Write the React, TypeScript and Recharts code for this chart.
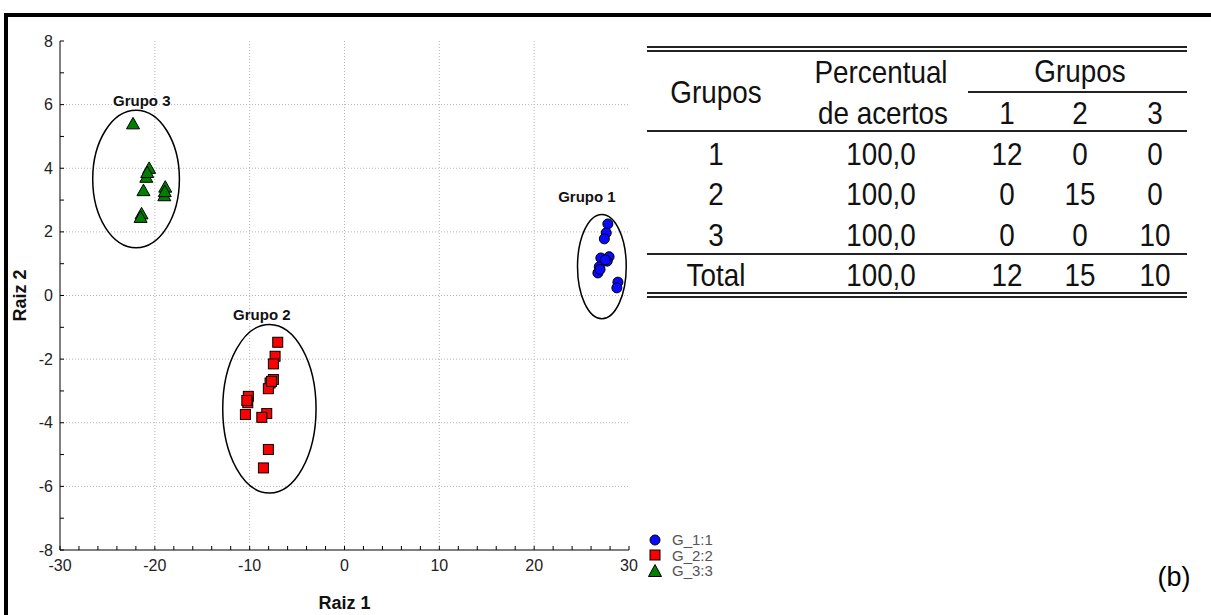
import { ScatterChart, Scatter, XAxis, YAxis, CartesianGrid, ReferenceArea, ReferenceDot } from 'recharts'

type Pt = { x: number; y: number }

// discriminant scores (Raiz 1, Raiz 2) per group
const grupo1: Pt[] = [
  { x: 27.77, y: 2.25 }, { x: 27.6, y: 1.97 }, { x: 27.4, y: 1.78 }, { x: 27.03, y: 1.18 },
  { x: 27.9, y: 1.22 }, { x: 27.7, y: 1.08 }, { x: 26.86, y: 0.9 }, { x: 26.72, y: 0.71 },
  { x: 28.83, y: 0.42 }, { x: 28.72, y: 0.24 }, { x: 27.5, y: 1.12 }, { x: 26.95, y: 0.82 },
]
const grupo2: Pt[] = [
  { x: -7.04, y: -1.47 }, { x: -7.32, y: -1.91 }, { x: -7.5, y: -2.15 }, { x: -7.5, y: -2.64 },
  { x: -7.85, y: -2.75 }, { x: -8.03, y: -2.93 }, { x: -10.14, y: -3.17 }, { x: -10.2, y: -3.37 },
  { x: -10.45, y: -3.74 }, { x: -8.2, y: -3.71 }, { x: -8.72, y: -3.83 }, { x: -8.03, y: -4.84 },
  { x: -8.55, y: -5.42 }, { x: -7.7, y: -2.7 }, { x: -10.3, y: -3.3 },
]
const grupo3: Pt[] = [
  { x: -22.3, y: 5.38 }, { x: -20.6, y: 3.98 }, { x: -20.9, y: 3.7 }, { x: -21.2, y: 3.28 },
  { x: -18.9, y: 3.39 }, { x: -19.0, y: 3.12 }, { x: -21.4, y: 2.55 }, { x: -21.5, y: 2.44 },
  { x: -20.8, y: 3.85 }, { x: -18.95, y: 3.25 },
]

// group ellipses: centre and semi-axes in score units
const ellipses = [
  { id: 'g1', cx: 27.14, cy: 0.91, rx: 2.57, ry: 1.64 },
  { id: 'g2', cx: -7.92, cy: -3.56, rx: 4.92, ry: 2.65 },
  { id: 'g3', cx: -21.98, cy: 3.66, rx: 4.57, ry: 2.16 },
]
const groupLabels = [
  { text: 'Grupo 1', x: 25.56, y: 3.12 },
  { text: 'Grupo 2', x: -8.72, y: -0.6 },
  { text: 'Grupo 3', x: -21.38, y: 6.11 },
]

const xLabels = [-30, -20, -10, 0, 10, 20, 30]
const yLabels = [-8, -6, -4, -2, 0, 2, 4, 6, 8]
const xGrid = [-20, -10, 0, 10, 20]
const yGrid = [-6, -4, -2, 0, 2, 4, 6]

const legendItems = ['G_1:1', 'G_2:2', 'G_3:3']

// classification table
const tableCols = ['1', '2', '3']
const tableRows = [
  { grupo: '1', pct: '100,0', counts: [12, 0, 0] },
  { grupo: '2', pct: '100,0', counts: [0, 15, 0] },
  { grupo: '3', pct: '100,0', counts: [0, 0, 10] },
]
const totalPct = '100,0'

const range = (a: number, b: number, step: number) => {
  const out: number[] = []
  for (let v = a; v <= b + 1e-9; v += step) out.push(Math.round(v * 100) / 100)
  return out
}
const xTicks = range(-30, 30, 2)
const yTicks = range(-8, 8, 1)

const BLUE = '#0a0aff'
const RED = '#ff0000'
const GREEN = '#007f00'

const Circle = (p: any) => <circle cx={p.cx} cy={p.cy} r={5} fill={BLUE} stroke="#000" strokeWidth={1} />
const Square = (p: any) => <rect x={p.cx - 5} y={p.cy - 5} width={10} height={10} fill={RED} stroke="#000" strokeWidth={1} />
const Triangle = (p: any) => (
  <polygon
    points={`${p.cx},${p.cy - 7} ${p.cx - 6.5},${p.cy + 4.5} ${p.cx + 6.5},${p.cy + 4.5}`}
    fill={GREEN}
    stroke="#000"
    strokeWidth={1}
  />
)

// ticks point inward on every side, labels only on major values
const BottomTick = ({ x, y, payload }: any) => (
  <g>
    <line x1={x} y1={y} x2={x} y2={y - 4} stroke="#000" />
    {xLabels.includes(payload.value) && (
      <text x={x} y={y + 21} textAnchor="middle" fontSize={16} fill="#222">{payload.value}</text>
    )}
  </g>
)
const LeftTick = ({ x, y, payload }: any) => (
  <g>
    <line x1={x} y1={y} x2={x + 4} y2={y} stroke="#000" />
    {yLabels.includes(payload.value) && (
      <text x={x - 7} y={y + 5.5} textAnchor="end" fontSize={16} fill="#222">{payload.value}</text>
    )}
  </g>
)
const TopTick = ({ x, y }: any) => <line x1={x} y1={y} x2={x} y2={y + 4} stroke="#000" />
const RightTick = ({ x, y }: any) => <line x1={x} y1={y} x2={x - 4} y2={y} stroke="#000" />

const EllipseShape = (p: any) => (
  <ellipse
    cx={p.x + p.width / 2}
    cy={p.y + p.height / 2}
    rx={p.width / 2}
    ry={p.height / 2}
    fill="none"
    stroke="#000"
    strokeWidth={1.5}
  />
)

const Cell = ({ x, y, children }: { x: number; y: number; children: React.ReactNode }) => (
  <div
    style={{
      position: 'absolute',
      left: x,
      top: y,
      transform: 'translate(-50%, -50%) scaleX(0.87)',
      fontSize: 32,
      lineHeight: 1,
      whiteSpace: 'nowrap',
      color: '#111',
    }}
  >
    {children}
  </div>
)

const HLine = ({ x1, x2, y, h = 2 }: { x1: number; x2: number; y: number; h?: number }) => (
  <div style={{ position: 'absolute', left: x1, top: y, width: x2 - x1, height: h, background: '#222' }} />
)

function ClassTable() {
  const colX = [716, 881, 1007, 1080, 1155]
  const rowY = [154, 194, 235]
  const totals = tableCols.map((_, i) => tableRows.reduce((s, r) => s + r.counts[i], 0))
  return (
    <>
      <HLine x1={647} x2={1187} y={46} />
      <HLine x1={647} x2={1187} y={49.5} />
      <Cell x={colX[0]} y={92}>Grupos</Cell>
      <Cell x={colX[1]} y={72}>Percentual</Cell>
      <Cell x={colX[1] + 2} y={113}>de acertos</Cell>
      <Cell x={colX[3]} y={71}>Grupos</Cell>
      <HLine x1={968} x2={1187} y={91} h={1.5} />
      {tableCols.map((c, i) => (
        <Cell key={c} x={colX[2 + i]} y={113}>{c}</Cell>
      ))}
      <HLine x1={647} x2={1187} y={130} />
      {tableRows.map((r, ri) => (
        <div key={r.grupo}>
          <Cell x={colX[0]} y={rowY[ri]}>{r.grupo}</Cell>
          <Cell x={colX[1]} y={rowY[ri]}>{r.pct}</Cell>
          {r.counts.map((n, i) => (
            <Cell key={i} x={colX[2 + i]} y={rowY[ri]}>{n}</Cell>
          ))}
        </div>
      ))}
      <HLine x1={647} x2={1187} y={253} />
      <Cell x={colX[0]} y={275}>Total</Cell>
      <Cell x={colX[1]} y={275}>{totalPct}</Cell>
      {totals.map((n, i) => (
        <Cell key={i} x={colX[2 + i]} y={275}>{n}</Cell>
      ))}
      <HLine x1={647} x2={1187} y={292} />
      <HLine x1={647} x2={1187} y={296} />
    </>
  )
}

function LegendBox() {
  const icons = [
    <circle cx={7} cy={7} r={5} fill={BLUE} stroke="#000" />,
    <rect x={2} y={2} width={10} height={10} fill={RED} stroke="#000" />,
    <polygon points="7,0.5 0.5,12.5 13.5,12.5" fill={GREEN} stroke="#000" />,
  ]
  return (
    <div style={{ position: 'absolute', left: 648, top: 532 }}>
      {legendItems.map((t, i) => (
        <div key={t} style={{ display: 'flex', alignItems: 'center', height: 15.5 }}>
          <svg width={14} height={14}>{icons[i]}</svg>
          <span style={{ marginLeft: 10, fontSize: 15, color: '#555' }}>{t}</span>
        </div>
      ))}
    </div>
  )
}

export default function App() {
  return (
    <div
      style={{
        position: 'absolute',
        left: 0,
        top: 0,
        width: 1211,
        height: 615,
        background: '#fff',
        fontFamily: 'Arial, "Liberation Sans", sans-serif',
        overflow: 'hidden',
      }}
    >
      <div style={{ position: 'absolute', left: 4, top: 13, width: 1207, height: 4, background: '#000' }} />
      <div style={{ position: 'absolute', left: 4, top: 13, width: 4, height: 602, background: '#000' }} />

      <ScatterChart width={1211} height={615} margin={{ top: 41, right: 582, bottom: 0, left: 0 }}>
        <CartesianGrid
          stroke="#b5b5b5"
          strokeDasharray="1 2"
          verticalValues={xGrid}
          horizontalValues={yGrid}
        />
        <XAxis
          type="number"
          dataKey="x"
          domain={[-30, 30]}
          ticks={xTicks}
          interval={0}
          height={65}
          tickSize={0}
          tickMargin={0}
          tickLine={false}
          tick={BottomTick}
          axisLine={{ stroke: '#000' }}
          label={{ value: 'Raiz 1', position: 'insideBottom', offset: 6, fontSize: 18, fontWeight: 'bold', fill: '#111' }}
        />
        <XAxis
          xAxisId="top"
          orientation="top"
          type="number"
          domain={[-30, 30]}
          ticks={xTicks}
          interval={0}
          height={0}
          tickSize={0}
          tickMargin={0}
          tickLine={false}
          tick={TopTick}
          axisLine={{ stroke: '#000' }}
        />
        <YAxis
          type="number"
          dataKey="y"
          domain={[-8, 8]}
          ticks={yTicks}
          interval={0}
          width={60}
          tickSize={0}
          tickMargin={0}
          tickLine={false}
          tick={LeftTick}
          axisLine={{ stroke: '#000' }}
          label={{
            content: ({ viewBox }: any) => {
              const cx = viewBox.x + 20
              const cy = viewBox.y + viewBox.height / 2
              return (
                <text x={cx} y={cy} transform={`rotate(-90 ${cx} ${cy})`} textAnchor="middle" dominantBaseline="central" fontSize={18} fontWeight="bold" fill="#111">
                  Raiz 2
                </text>
              )
            },
          }}
        />
        <YAxis
          yAxisId="right"
          orientation="right"
          type="number"
          domain={[-8, 8]}
          ticks={yTicks}
          interval={0}
          width={0}
          tickSize={0}
          tickMargin={0}
          tickLine={false}
          tick={RightTick}
          axisLine={{ stroke: '#000' }}
        />

        {ellipses.map((e) => (
          <ReferenceArea
            key={e.id}
            x1={e.cx - e.rx}
            x2={e.cx + e.rx}
            y1={e.cy - e.ry}
            y2={e.cy + e.ry}
            shape={EllipseShape}
          />
        ))}

        <Scatter name="G_1:1" data={grupo1} shape={Circle} isAnimationActive={false} />
        <Scatter name="G_2:2" data={grupo2} shape={Square} isAnimationActive={false} />
        <Scatter name="G_3:3" data={grupo3} shape={Triangle} isAnimationActive={false} />

        {groupLabels.map((l) => (
          <ReferenceDot
            key={l.text}
            x={l.x}
            y={l.y}
            r={0}
            fill="none"
            stroke="none"
            label={{ value: l.text, position: 'center', fontSize: 15, fontWeight: 'bold', fill: '#111' }}
          />
        ))}
      </ScatterChart>

      <LegendBox />
      <ClassTable />
      <div style={{ position: 'absolute', left: 1174, top: 577, transform: 'translate(-50%, -50%)', fontSize: 27, color: '#000' }}>(b)</div>
    </div>
  )
}
